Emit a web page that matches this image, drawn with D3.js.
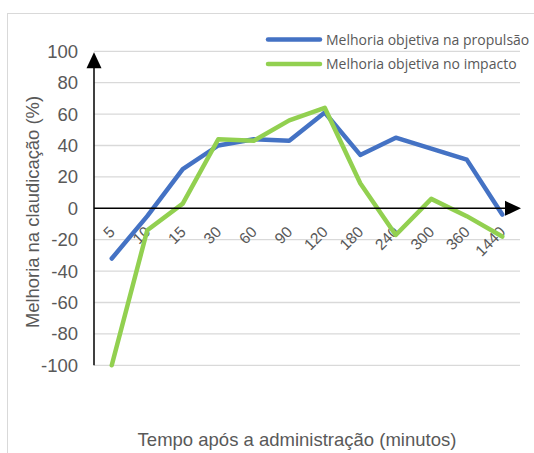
<!DOCTYPE html>
<html>
<head>
<meta charset="utf-8">
<script src="https://cdn.jsdelivr.net/npm/d3@7"></script>
<style>
  html, body { margin: 0; padding: 0; background: #fff; }
  svg { display: block; }
</style>
</head>
<body>
<svg id="chart" width="534" height="453"></svg>
<script>
// Tempo após a administração (minutos)
const categories = ["5", "10", "15", "30", "60", "90", "120", "180", "240", "300", "360", "1440"];
// Melhoria objetiva na propulsão (%)
const propulsao = [-32, -5, 25, 40, 44, 43, 61, 34, 45, 38, 31, -4];
// Melhoria objetiva no impacto (%)
const impacto = [-100, -14, 3, 44, 43, 56, 64, 16, -17, 6, -5, -18];
const yTicks = [-100, -80, -60, -40, -20, 0, 20, 40, 60, 80, 100];
const seriesNames = ["Melhoria objetiva na propulsão", "Melhoria objetiva no impacto"];
const seriesColors = ["#4472C4", "#92D050"];

(function () {
const svg = d3.select("#chart");
const pLeft = 94, pRight = 520, pTop = 51.3, pBottom = 365.3;
const axisFont = "Liberation Sans, Arial, sans-serif";

// chart frame
svg.append("rect")
  .attr("x", 7.5).attr("y", 13.5)
  .attr("width", 540).attr("height", 460)
  .attr("fill", "none").attr("stroke", "#d9d9d9").attr("stroke-width", 1);

const x = d3.scaleBand().domain(categories).range([pLeft, pRight]);
const y = d3.scaleLinear().domain([-100, 100]).range([pBottom, pTop]);

// horizontal gridlines
svg.append("g").selectAll("line").data(yTicks.filter(d => d !== 0)).join("line")
  .attr("x1", pLeft).attr("x2", pRight)
  .attr("y1", d => y(d)).attr("y2", d => y(d))
  .attr("stroke", "#d9d9d9").attr("stroke-width", 1.3);

// y tick labels (plain hyphen for negatives)
const yAxis = d3.axisLeft(y).tickValues(yTicks).tickFormat(d => String(d))
  .tickSize(0).tickPadding(16);
const gy = svg.append("g").attr("transform", `translate(${pLeft},0)`).call(yAxis);
gy.select(".domain").remove();
gy.selectAll("text")
  .attr("font-family", axisFont)
  .attr("font-size", 18.5).attr("fill", "#595959");

// x tick labels, rotated
const xAxis = d3.axisBottom(x).tickSize(0).tickPadding(0);
const gx = svg.append("g").attr("transform", `translate(0,${y(0)})`).call(xAxis);
gx.select(".domain").remove();
gx.selectAll("text")
  .attr("font-family", axisFont)
  .attr("font-size", 15.5).attr("fill", "#595959")
  .attr("text-anchor", "end")
  .attr("dy", 0).attr("y", 0)
  .attr("transform", "translate(4,24.5) rotate(-45)");

// series lines
const line = d3.line()
  .x((d, i) => x(categories[i]) + x.bandwidth() / 2)
  .y(d => y(d));
[propulsao, impacto].forEach((s, k) => {
  svg.append("path").datum(s)
    .attr("d", line)
    .attr("fill", "none")
    .attr("stroke", seriesColors[k])
    .attr("stroke-width", 4.5)
    .attr("stroke-linejoin", "round")
    .attr("stroke-linecap", "round");
});

// axes with arrowheads
svg.append("line")
  .attr("x1", pLeft).attr("x2", pLeft)
  .attr("y1", pBottom).attr("y2", pTop + 10)
  .attr("stroke", "#000").attr("stroke-width", 1.5);
svg.append("path")
  .attr("d", `M${pLeft},${pTop + 1} L${pLeft - 7.5},${pTop + 17} L${pLeft + 7.5},${pTop + 17} Z`)
  .attr("fill", "#000");
svg.append("line")
  .attr("x1", pLeft).attr("x2", pRight - 10)
  .attr("y1", y(0)).attr("y2", y(0))
  .attr("stroke", "#000").attr("stroke-width", 1.5);
svg.append("path")
  .attr("d", `M${pRight + 1},${y(0)} L${pRight - 15},${y(0) - 7.5} L${pRight - 15},${y(0) + 7.5} Z`)
  .attr("fill", "#000");

// legend
const legend = svg.append("g");
seriesNames.forEach((name, k) => {
  const ly = 39.5 + k * 24.5;
  legend.append("line")
    .attr("x1", 268).attr("x2", 320)
    .attr("y1", ly).attr("y2", ly)
    .attr("stroke", seriesColors[k]).attr("stroke-width", 4.5)
    .attr("stroke-linecap", "round");
  legend.append("text")
    .attr("x", 326).attr("y", ly + 5)
    .attr("font-family", "Open Sans, Noto Sans, sans-serif")
    .attr("font-size", 14).attr("fill", "#595959")
    .text(name);
});

// axis titles
svg.append("text")
  .attr("transform", `translate(39,212) rotate(-90)`)
  .attr("text-anchor", "middle")
  .attr("font-family", axisFont)
  .attr("font-size", 18.4).attr("fill", "#595959")
  .text("Melhoria na claudicação (%)");
svg.append("text")
  .attr("x", 297).attr("y", 446)
  .attr("text-anchor", "middle")
  .attr("font-family", axisFont)
  .attr("font-size", 18.5).attr("fill", "#595959")
  .text("Tempo após a administração (minutos)");
})();
</script>
</body>
</html>
